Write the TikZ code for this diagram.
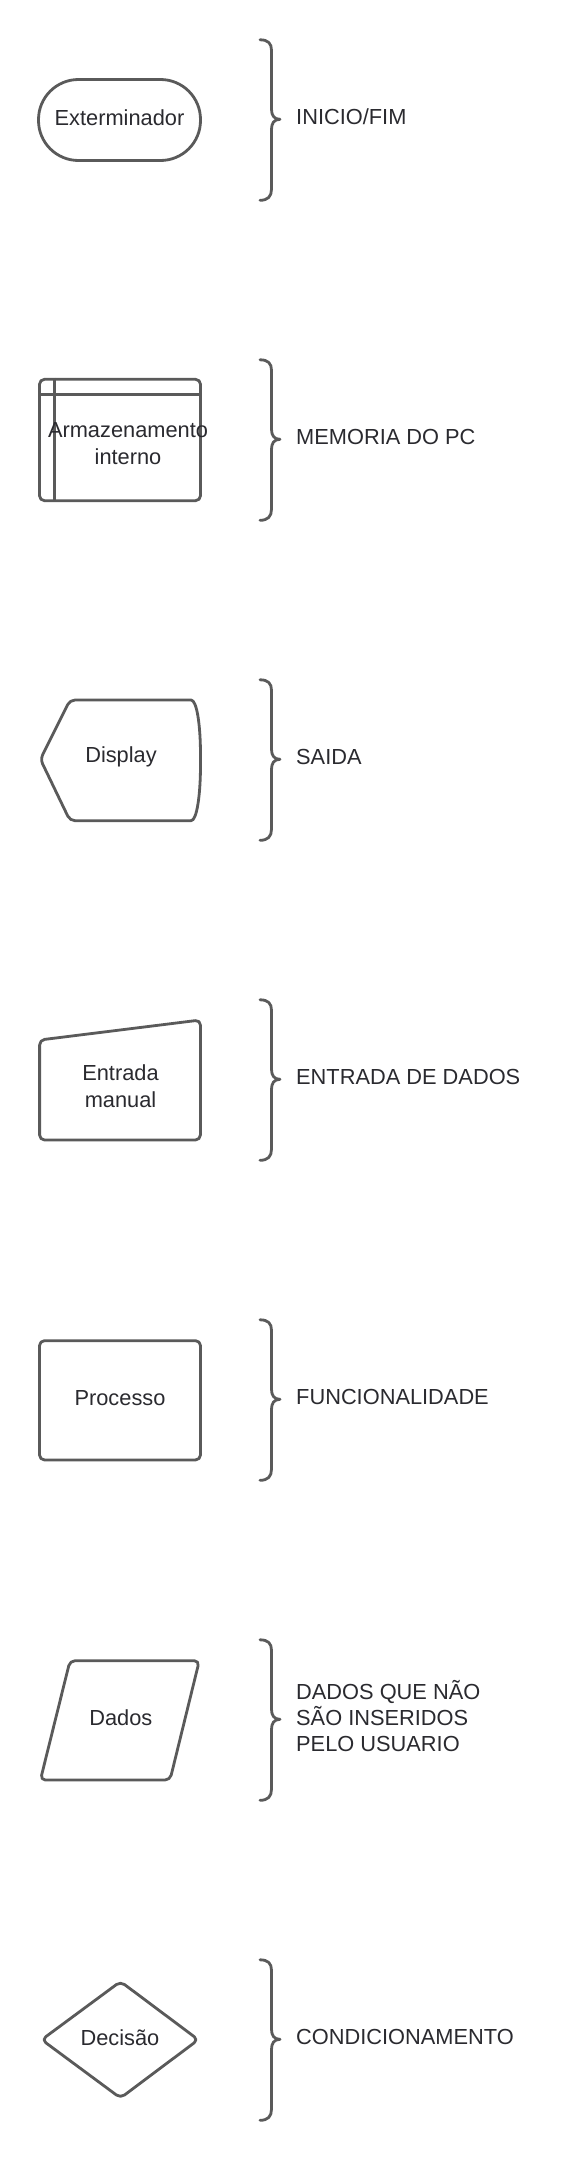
\documentclass[tikz,border=0pt]{standalone}
\usepackage{fontspec}
\setmainfont{Liberation Sans}
\definecolor{lc}{HTML}{5A5A5A}
\definecolor{tc}{HTML}{2A2A2F}
\begin{document}
\begin{tikzpicture}[x=1pt,y=-1pt,
  txt/.style={text=tc,font=\fontsize{21.8}{27}\selectfont,inner sep=0pt,align=center,yshift=2.3pt},
  shp/.style={draw=lc,line width=2.8pt,rounded corners=5pt,line join=round},
  brc/.style={draw=lc,line width=2.8pt,line cap=round,line join=round},
  lbl/.style={txt,anchor=west,align=left},
  curly/.pic={\draw[brc] (260,-79.5) .. controls (268,-79.5) and (271.5,-76) .. (271.5,-69) -- (271.5,-10) .. controls (271.5,-4) and (274,0) .. (280,0) .. controls (274,0) and (271.5,4) .. (271.5,10) -- (271.5,70) .. controls (271.5,77) and (268,81) .. (260,81);}
]
\useasboundingbox[fill=white] (0,0) rectangle (580,2160);

% 1 Terminator
\node[shp,rounded corners=40pt,minimum width=162pt,minimum height=81pt] (term) at (119.5,120) {};
\node[txt] (ttxt) at (term.center) {Exterminador};
\pic at (0,119.3) {curly};
\node[lbl] (l1) at (296,119.3) {INICIO/FIM};

% 2 Internal storage
\node[shp,minimum width=161pt,minimum height=121.4pt] (stor) at (120,440) {};
\draw[brc,line cap=butt] ([yshift=-16.7pt]stor.north west) -- ([yshift=-16.7pt]stor.north east);
\draw[brc,line cap=butt] ([xshift=16pt]stor.north west) -- ([xshift=16pt]stor.south west);
\node[txt] (stxt) at (128,445.5) {Armazenamento\\interno};
\pic at (0,439.3) {curly};
\node[lbl] (l2) at (296,439.3) {MEMORIA DO PC};

% 3 Display
\draw[shp] (40.4,759.3) -- (70,700) -- (186,700) .. controls (197,700) and (200.5,726) .. (200.5,760) .. controls (200.5,794) and (197,820.7) .. (186,820.7) -- (70,820.7) -- cycle;
\node[txt] (disp) at (121,759.3) {Display};
\pic at (0,759.3) {curly};
\node[lbl] (l3) at (296,759.3) {SAIDA};

% 4 Manual input
\draw[shp] (39.6,1040) -- (200.4,1020) -- (200.4,1140) -- (39.6,1140) -- cycle;
\node[txt] (man) at (120.5,1088.8) {Entrada\\manual};
\pic at (0,1079.3) {curly};
\node[lbl] (l4) at (296,1079.3) {ENTRADA DE DADOS};

% 5 Process
\node[shp,minimum width=161pt,minimum height=119.3pt] (proc) at (120,1400.3) {};
\node[txt] (ptxt) at (proc.center) {Processo};
\pic at (0,1399.3) {curly};
\node[lbl] (l5) at (296,1399.3) {FUNCIONALIDADE};

% 6 Data
\draw[shp] (70,1660.7) -- (199.3,1660.7) -- (170,1780) -- (40.4,1780) -- cycle;
\node[txt] (dados) at (120.8,1720) {Dados};
\pic at (0,1719.3) {curly};
\node[lbl,font=\fontsize{21.8}{26}\selectfont] (l6) at (296,1718.3) {DADOS QUE NÃO\\SÃO INSERIDOS\\PELO USUARIO};

% 7 Decision
\draw[shp] (41.7,2039.7) -- (120.5,1981.5) -- (198.3,2039.7) -- (120.5,2098) -- cycle;
\node[txt] (dec) at (120,2039.7) {Decisão};
\pic at (0,2039.3) {curly};
\node[lbl] (l7) at (296,2039.3) {CONDICIONAMENTO};
\end{tikzpicture}
\end{document}
